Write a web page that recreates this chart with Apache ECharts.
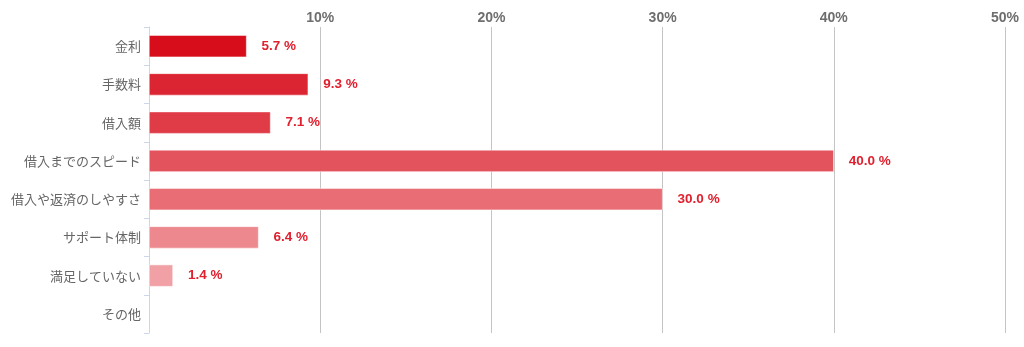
<!DOCTYPE html>
<html><head><meta charset="utf-8">
<script src="https://cdn.jsdelivr.net/npm/echarts@6/dist/echarts.min.js"></script>
<style>html,body{margin:0;padding:0;background:#fff}#c{width:1024px;height:347px}</style>
</head><body><div id="c"></div>
<script>
const categories = ['金利','手数料','借入額','借入までのスピード','借入や返済のしやすさ','サポート体制','満足していない','その他'];
const values = [5.7, 9.3, 7.1, 40.0, 30.0, 6.4, 1.4, null];
const barColors = ['#d70d1b','#dc2533','#e03c48','#e3535e','#e86d75','#ed888e','#f1a1a5','#f4b8bb'];
const tickValues = [0,10,20,30,40,50];

const chart = echarts.init(document.getElementById('c'));
chart.setOption({
  animation:false,
  grid:{left:149,right:19,top:27,bottom:14,containLabel:false},
  xAxis:{type:'value',position:'top',min:tickValues[0],max:tickValues[tickValues.length-1],interval:10,
    axisLine:{show:false},axisTick:{show:false},
    splitLine:{show:true,lineStyle:{color:'#c4c4c4',width:1}},
    axisLabel:{margin:2,color:'#6e6e6e',fontWeight:'bold',fontSize:14,fontFamily:'Arial, Liberation Sans, sans-serif',
      formatter:v=>v===0?'':v+'%'}},
  yAxis:{type:'category',inverse:true,data:categories,
    axisLine:{show:true,lineStyle:{color:'#ccd6eb'}},
    axisTick:{show:true,length:5,lineStyle:{color:'#ccd6eb'}},
    axisLabel:{margin:8,color:'#666',fontSize:13,fontFamily:'Noto Sans CJK JP, sans-serif'}},
  series:[{type:'bar',barWidth:22,
    data:values.map((v,i)=>({value:v,itemStyle:{color:barColors[i],borderColor:'#fff',borderWidth:0.5}})),
    label:{show:true,position:'right',distance:15,color:'#e0202e',fontWeight:'bold',fontSize:13.5,
      fontFamily:'Arial, Liberation Sans, sans-serif',
      formatter:p=>p.value==null?'':p.value.toFixed(1)+' %'}}]
});
</script></body></html>
